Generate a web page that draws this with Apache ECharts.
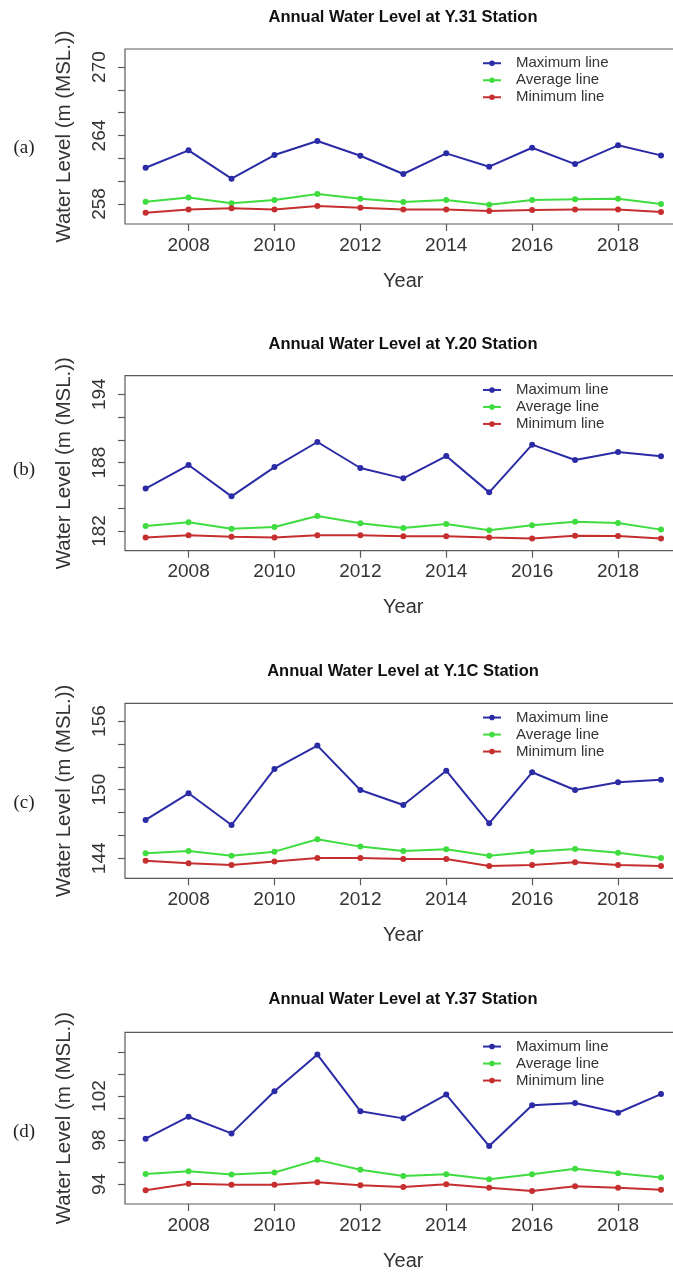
<!DOCTYPE html>
<html>
<head>
<meta charset="utf-8">
<script src="https://cdn.jsdelivr.net/npm/echarts@6/dist/echarts.min.js"></script>
<style>
  html, body { margin: 0; padding: 0; background: #fff; overflow: hidden; }
  #chart { width: 700px; height: 1272px; }
</style>
</head>
<body>
<div id="chart"></div>
<script>
// Annual maximum / average / minimum water levels, 2007-2019
const years = [2007, 2008, 2009, 2010, 2011, 2012, 2013, 2014, 2015, 2016, 2017, 2018, 2019];

const y31Max = [261.18, 262.70, 260.22, 262.29, 263.52, 262.23, 260.63, 262.44, 261.27, 262.93, 261.50, 263.14, 262.26];
const y31Avg = [258.20, 258.58, 258.06, 258.35, 258.88, 258.47, 258.18, 258.35, 257.94, 258.35, 258.41, 258.47, 258.00];
const y31Min = [257.24, 257.53, 257.62, 257.53, 257.82, 257.68, 257.53, 257.53, 257.39, 257.47, 257.53, 257.53, 257.30];

const y20Max = [185.72, 187.79, 185.04, 187.61, 189.81, 187.53, 186.62, 188.58, 185.39, 189.58, 188.23, 188.93, 188.55];
const y20Avg = [182.43, 182.76, 182.20, 182.35, 183.31, 182.67, 182.26, 182.61, 182.06, 182.50, 182.82, 182.70, 182.12];
const y20Min = [181.42, 181.62, 181.50, 181.42, 181.62, 181.62, 181.53, 181.53, 181.42, 181.35, 181.59, 181.56, 181.35];

const y1cMax = [147.35, 149.68, 146.91, 151.81, 153.85, 149.97, 148.66, 151.66, 147.06, 151.52, 149.97, 150.65, 150.87];
const y1cAvg = [144.44, 144.64, 144.23, 144.58, 145.66, 145.02, 144.64, 144.79, 144.23, 144.58, 144.82, 144.49, 144.03];
const y1cMin = [143.79, 143.57, 143.42, 143.71, 144.03, 144.03, 143.94, 143.94, 143.33, 143.42, 143.65, 143.42, 143.33];

const y37Max = [98.14, 100.13, 98.62, 102.44, 105.76, 100.63, 99.98, 102.14, 97.47, 101.16, 101.38, 100.49, 102.18];
const y37Avg = [94.94, 95.18, 94.89, 95.07, 96.22, 95.33, 94.76, 94.92, 94.47, 94.92, 95.42, 95.00, 94.62];
const y37Min = [93.47, 94.05, 93.96, 93.96, 94.20, 93.91, 93.76, 94.00, 93.70, 93.40, 93.82, 93.70, 93.52];

const stations = ['Y.31', 'Y.20', 'Y.1C', 'Y.37'];
const panelTags = ['(a)', '(b)', '(c)', '(d)'];
const seriesNames = ['Maximum line', 'Average line', 'Minimum line'];

// y-axis extents, tick marks and labelled ticks per station
const yMins = [256.25, 180.27, 142.25, 92.22];
const yMaxs = [271.58, 195.63, 157.55, 107.78];
const yTicks = [
  [258, 260, 262, 264, 266, 268, 270],
  [182, 184, 186, 188, 190, 192, 194],
  [144, 146, 148, 150, 152, 154, 156],
  [94, 96, 98, 100, 102, 104, 106]
];
const yTickLabels = [
  [258, 264, 270],
  [182, 188, 194],
  [144, 150, 156],
  [94, 98, 102]
];
const xTickLabels = [2008, 2010, 2012, 2014, 2016, 2018];

const stationData = [
  [y31Max, y31Avg, y31Min],
  [y20Max, y20Avg, y20Min],
  [y1cMax, y1cAvg, y1cMin],
  [y37Max, y37Avg, y37Min]
];

// layout of the four stacked panels
const gridTops = [49, 375.7, 703.3, 1032.3];
const plotH = 175;
const plotLeft = 125;
const plotW = 556.6;
const titleYs = [17, 344, 671, 999];
const tagYs = [148, 470, 803, 1132];
const lineColors = ['#2b2ba6', '#3fdc3f', '#c62f2f'];
const SANS = '"Liberation Sans", Arial, sans-serif';

const chart = echarts.init(document.getElementById('chart'), null, { renderer: 'canvas' });

const grids = [], xAxes = [], yAxes = [], series = [], legends = [], graphics = [];

stations.forEach((st, p) => {
  grids.push({
    left: plotLeft, top: gridTops[p], width: plotW, height: plotH,
    show: true, borderColor: '#5a5a5a', borderWidth: 1.2, backgroundColor: 'transparent'
  });
  xAxes.push({
    type: 'value', gridIndex: p, min: 2006.52, max: 2019.48,
    name: 'Year', nameLocation: 'middle', nameGap: 47,
    nameTextStyle: { fontFamily: SANS, fontSize: 20, color: '#333' },
    axisLine: { show: false },
    splitLine: { show: false },
    axisTick: { show: true, length: 7, customValues: xTickLabels, lineStyle: { color: '#5a5a5a', width: 1.2 } },
    axisLabel: {
      customValues: xTickLabels, margin: 12,
      fontFamily: SANS, fontSize: 19, color: '#333',
      formatter: v => String(v)
    }
  });
  yAxes.push({
    type: 'value', gridIndex: p, min: yMins[p], max: yMaxs[p],
    name: 'Water Level (m (MSL.))', nameLocation: 'middle', nameGap: 50,
    nameTextStyle: { fontFamily: SANS, fontSize: 20.5, color: '#333' },
    axisLine: { show: false },
    splitLine: { show: false },
    axisTick: { show: true, length: 7, customValues: yTicks[p], lineStyle: { color: '#5a5a5a', width: 1.2 } },
    axisLabel: {
      customValues: yTickLabels[p], rotate: 90, margin: 16,
      fontFamily: SANS, fontSize: 19, color: '#333',
      formatter: v => String(v)
    }
  });
  stationData[p].forEach((vals, k) => {
    series.push({
      type: 'line', name: seriesNames[k], xAxisIndex: p, yAxisIndex: p,
      data: years.map((yr, i) => [yr, vals[i]]),
      symbol: 'circle', symbolSize: 6, silent: true, animation: false,
      lineStyle: { color: lineColors[k], width: 2 },
      itemStyle: { color: lineColors[k] }
    });
  });
  legends.push({
    data: seriesNames, orient: 'vertical',
    left: 482, top: gridTops[p] + 14 - 7.25,
    padding: 0,
    itemWidth: 18, itemHeight: 7, itemGap: 2,
    selectedMode: false,
    textStyle: { fontFamily: SANS, fontSize: 15, color: '#333', lineHeight: 14.5, padding: [0, 0, 0, 10] }
  });
  graphics.push({
    type: 'text', x: 403, y: titleYs[p], silent: true,
    style: {
      text: 'Annual Water Level at ' + st + ' Station',
      font: 'bold 16.5px ' + SANS, fill: '#111',
      align: 'center', verticalAlign: 'middle',
      textAlign: 'center', textVerticalAlign: 'middle'
    }
  });
  graphics.push({
    type: 'text', x: 24, y: tagYs[p], silent: true,
    style: {
      text: panelTags[p],
      font: '19px "Liberation Serif", "Times New Roman", serif', fill: '#222',
      align: 'center', verticalAlign: 'middle',
      textAlign: 'center', textVerticalAlign: 'middle'
    }
  });
});

chart.setOption({
  animation: false,
  backgroundColor: '#fff',
  grid: grids,
  xAxis: xAxes,
  yAxis: yAxes,
  legend: legends,
  series: series,
  graphic: graphics
});
</script>
</body>
</html>
